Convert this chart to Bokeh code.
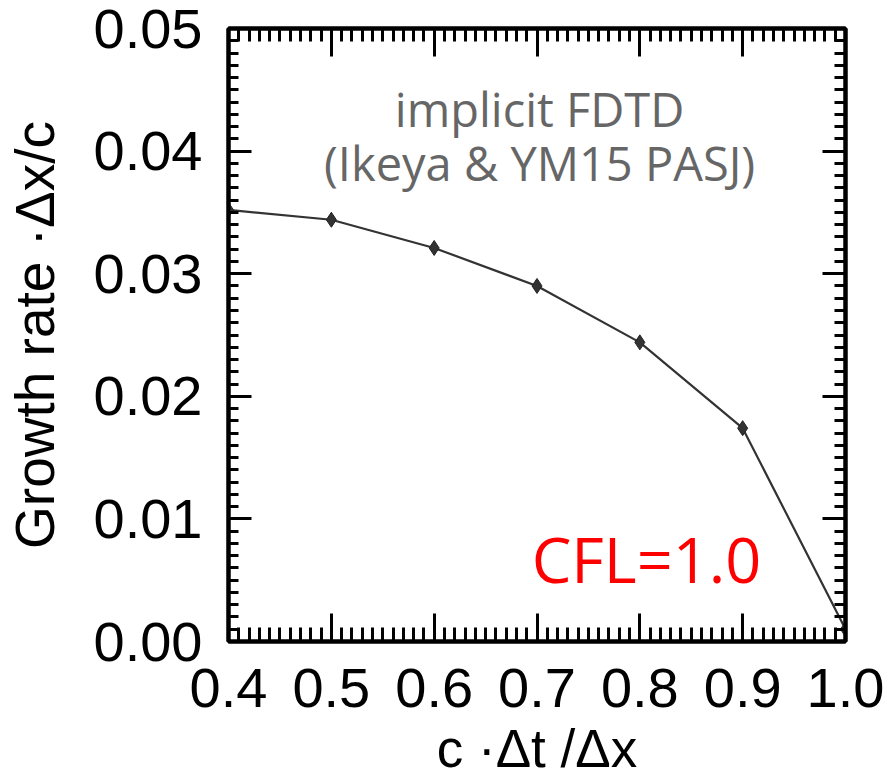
from bokeh.plotting import figure
from bokeh.models import (LinearAxis, FixedTicker, SingleIntervalTicker, Range1d,
                          CustomJSTickFormatter, Label)
from bokeh.embed import file_html
from bokeh.resources import INLINE

# ---- data ----
cfl = [0.4, 0.5, 0.6, 0.7, 0.8, 0.9, 1.0]
growth_rate = [0.0352, 0.0344, 0.0321, 0.0290, 0.0244, 0.0174, 0.0010]

x_ticks = [0.4, 0.5, 0.6, 0.7, 0.8, 0.9, 1.0]
x_tick_labels = ["0.4", "0.5", "0.6", "0.7", "0.8", "0.9", "1.0"]
y_ticks = [0.0, 0.01, 0.02, 0.03, 0.04, 0.05]
y_tick_labels = ["0.00", "0.01", "0.02", "0.03", "0.04", "0.05"]

annotation_lines = ["implicit FDTD", "(Ikeya & YM15 PASJ)"]
cfl_label = "CFL=1.0"
x_title = "c ·Δt /Δx"
y_title = "Growth rate ·Δx/c"

# minor tick positions: 10 per major interval
x_minor = [float(round(0.4 + 0.01 * i, 3)) for i in range(61)]

p = figure(width=889, height=782,
           x_range=Range1d(0.4, 1.0), y_range=Range1d(0.0, 0.05),
           output_backend="svg", toolbar_location=None,
           min_border_left=228, min_border_right=44,
           min_border_top=28, min_border_bottom=141,
           x_axis_location=None, y_axis_location=None)
p.grid.visible = False
p.outline_line_color = "black"
p.outline_line_width = 4
p.background_fill_color = "white"
p.border_fill_color = "white"

TICK_FONT = "Liberation Sans"

def x_ticker():
    return FixedTicker(ticks=x_ticks, minor_ticks=x_minor)

def y_ticker():
    return SingleIntervalTicker(interval=y_ticks[1] - y_ticks[0], num_minor_ticks=10)

def make_axis(ticker, labels, show_labels, maj_len, min_len):
    ax = LinearAxis(ticker=ticker)
    ax.axis_line_color = "black"
    ax.axis_line_width = 4
    ax.major_tick_line_color = "black"
    ax.major_tick_line_width = 3
    ax.minor_tick_line_color = "black"
    ax.minor_tick_line_width = 3
    ax.major_tick_in = maj_len
    ax.major_tick_out = 0
    ax.minor_tick_in = min_len
    ax.minor_tick_out = 0
    if show_labels:
        ax.formatter = CustomJSTickFormatter(args=dict(labels=labels),
                                             code="return labels[index];")
        ax.major_label_text_font = TICK_FONT
        ax.major_label_text_font_size = "56px"
        ax.major_label_text_color = "black"
    else:
        ax.formatter = CustomJSTickFormatter(code="return '';")
        ax.major_label_text_font_size = "1px"
        ax.major_label_standoff = 0
    return ax

xb = make_axis(x_ticker(), x_tick_labels, True, 28, 14)
xb.major_label_standoff = 27
xb.axis_label = x_title
xb.axis_label_text_font = TICK_FONT
xb.axis_label_text_font_size = "53px"
xb.axis_label_text_font_style = "normal"
xb.axis_label_text_color = "black"
xb.axis_label_standoff = 9
p.add_layout(xb, "below")

yl = make_axis(y_ticker(), y_tick_labels, True, 23, 10)
yl.major_label_standoff = 26
yl.axis_label = y_title
yl.axis_label_text_font = TICK_FONT
yl.axis_label_text_font_size = "55px"
yl.axis_label_text_font_style = "normal"
yl.axis_label_text_color = "black"
yl.axis_label_standoff = 25
p.add_layout(yl, "left")

xt = make_axis(x_ticker(), x_tick_labels, False, 28, 13)
p.add_layout(xt, "above")
yr = make_axis(y_ticker(), y_tick_labels, False, 23, 11)
p.add_layout(yr, "right")

p.line(cfl, growth_rate, line_color="#333333", line_width=2.2)
p.scatter(cfl, growth_rate, marker="diamond", size=15,
          fill_color="#333333", line_color="#222222", line_width=1)

ann_font = "Open Sans"
p.add_layout(Label(x=0.7025, y=0.04347, text=annotation_lines[0],
                   text_font=ann_font, text_font_size="47px",
                   text_color="#666666", text_align="center",
                   text_baseline="alphabetic"))
p.add_layout(Label(x=0.7025, y=0.03907, text=annotation_lines[1],
                   text_font=ann_font, text_font_size="47px",
                   text_color="#666666", text_align="center",
                   text_baseline="alphabetic"))
p.add_layout(Label(x=0.8065, y=0.00677, text=cfl_label,
                   text_font=ann_font, text_font_size="63px",
                   text_color="#ff0000", text_align="center",
                   text_baseline="alphabetic"))

open("out.html", "w").write(file_html(p, INLINE))
